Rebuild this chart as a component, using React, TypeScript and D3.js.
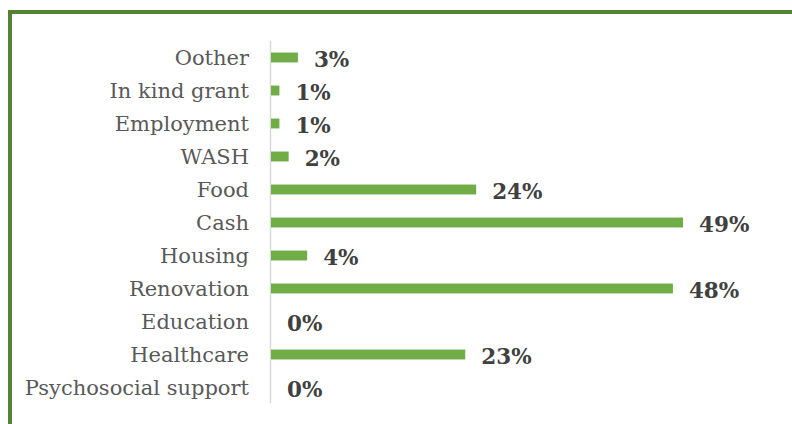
import React, { useEffect, useRef } from 'react';
import * as d3 from 'd3';

// categories top to bottom
const categories = [
  'Oother',
  'In kind grant',
  'Employment',
  'WASH',
  'Food',
  'Cash',
  'Housing',
  'Renovation',
  'Education',
  'Healthcare',
  'Psychosocial support',
];
// share of respondents, %
const values = [3.2, 1.0, 1.0, 2.1, 24.4, 49.0, 4.3, 47.8, 0, 23.1, 0];

const W = 792;
const H = 424;
const FONT = '"DejaVu Serif", Georgia, serif';

const App = () => {
  const ref = useRef<SVGSVGElement>(null);

  useEffect(() => {
    document.body.style.margin = '0';
    const svg = d3.select(ref.current);
    svg.selectAll('*').remove();

    // frame (top + left only)
    svg.append('line')
      .attr('x1', 8).attr('x2', W).attr('y1', 12).attr('y2', 12)
      .attr('stroke', '#548235').attr('stroke-width', 4);
    svg.append('line')
      .attr('x1', 10).attr('x2', 10).attr('y1', 10).attr('y2', H)
      .attr('stroke', '#548235').attr('stroke-width', 4);

    const x = d3.scaleLinear().domain([0, 50]).range([271, 271 + 420.4]);
    const y = d3.scaleBand().domain(categories).range([41, 404]).paddingInner(0.7).paddingOuter(0.35);

    // axis line
    svg.append('line')
      .attr('x1', 270.5).attr('x2', 270.5).attr('y1', 41).attr('y2', 403)
      .attr('stroke', '#d9d9d9').attr('stroke-width', 1.5);

    const rows = categories.map((c, i) => ({ c, v: values[i] }));

    svg.selectAll('.bar')
      .data(rows)
      .enter()
      .append('rect')
      .attr('class', 'bar')
      .attr('x', x(0))
      .attr('y', d => y(d.c)!)
      .attr('width', d => x(d.v) - x(0))
      .attr('height', y.bandwidth())
      .attr('fill', '#70ad47');

    svg.selectAll('.cat')
      .data(rows)
      .enter()
      .append('text')
      .attr('class', 'cat')
      .attr('x', 249)
      .attr('y', d => y(d.c)! + y.bandwidth() / 2)
      .attr('dy', '0.35em')
      .attr('text-anchor', 'end')
      .style('font-family', FONT)
      .style('font-size', '21px')
      .style('fill', '#595959')
      .text(d => d.c);

    svg.selectAll('.val')
      .data(rows)
      .enter()
      .append('text')
      .attr('class', 'val')
      .attr('x', d => x(d.v) + 16)
      .attr('y', d => y(d.c)! + y.bandwidth() / 2 + 2)
      .attr('dy', '0.35em')
      .style('font-family', FONT)
      .style('font-size', '21.5px')
      .style('font-weight', 'bold')
      .style('fill', '#404040')
      .text(d => `${Math.round(d.v)}%`);
  }, []);

  return <svg ref={ref} width={W} height={H} style={{ display: 'block', background: '#fff' }} />;
};

export default App;
